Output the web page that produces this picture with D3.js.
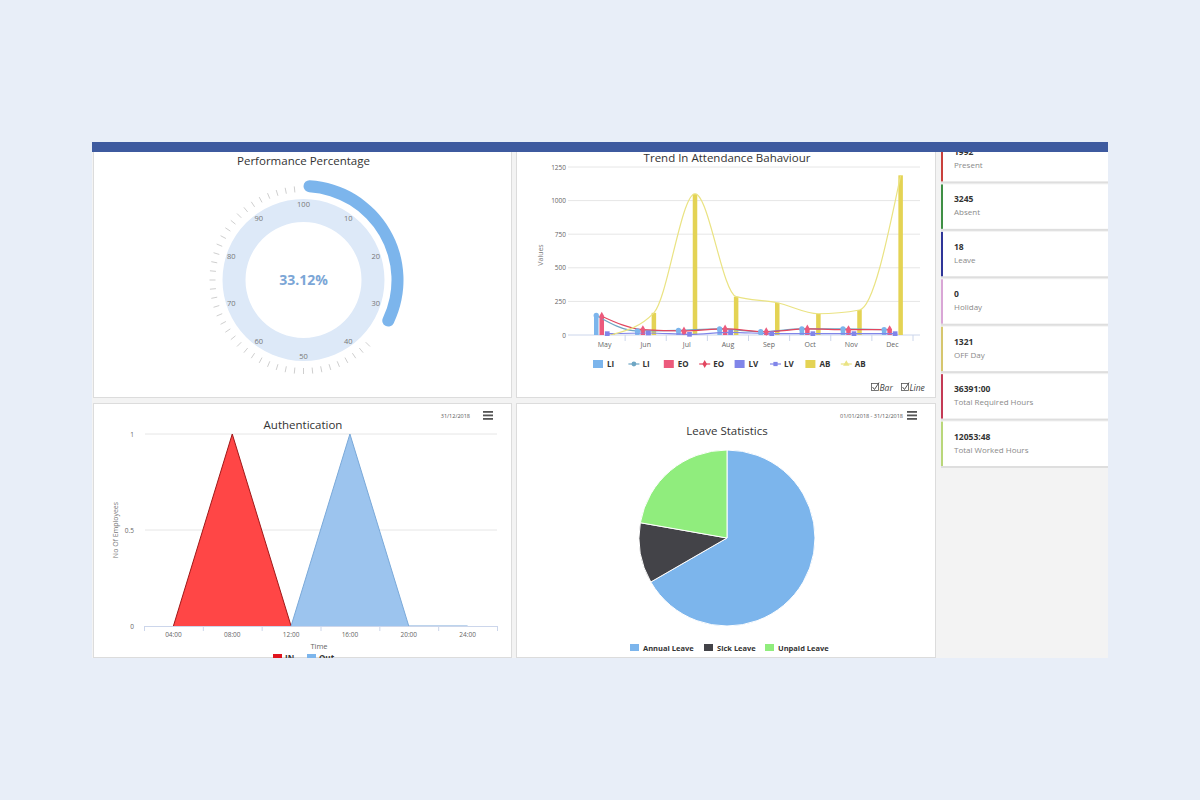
<!DOCTYPE html>
<html>
<head>
<meta charset="utf-8">
<script src="https://cdn.jsdelivr.net/npm/d3@7"></script>
<style>
  html, body { margin: 0; padding: 0; background: #e8eef8; }
  svg { display: block; font-family: 'Open Sans', 'Noto Sans', sans-serif; }
</style>
</head>
<body>
<main></main>
<script>
// ---- data ----
const performance = 33.12;
const gaugeTicks = [0, 10, 20, 30, 40, 50, 60, 70, 80, 90];
const gaugeTickLabels = ['100', '10', '20', '30', '40', '50', '60', '70', '80', '90'];

const months = ['May', 'Jun', 'Jul', 'Aug', 'Sep', 'Oct', 'Nov', 'Dec'];
const seriesNames = ['LI', 'EO', 'LV', 'AB'];
const liValues = [145, 30, 35, 45, 25, 45, 45, 40];
const eoValues = [140, 40, 30, 45, 25, 45, 40, 40];
const lvValues = [10, 15, 5, 20, 10, 10, 10, 10];
const abValues = [5, 165, 1050, 285, 240, 158, 186, 1188];
const trendTicks = [0, 250, 500, 750, 1000, 1250];

const hours = [4, 8, 12, 16, 20, 24];
const hourLabels = ['04:00', '08:00', '12:00', '16:00', '20:00', '24:00'];
const inCounts = [0, 1, 0, null, null, null];
const outCounts = [null, null, 0, 1, 0, 0];
const authTicks = [0, 0.5, 1];

const leaveTypes = ['Annual Leave', 'Sick Leave', 'Unpaid Leave'];
const leaveDays = [12, 2, 4];

const statValues = ['1992', '3245', '18', '0', '1321', '36391:00', '12053:48'];
const statLabels = ['Present', 'Absent', 'Leave', 'Holiday', 'OFF Day', 'Total Required Hours', 'Total Worked Hours'];

// ---- style ----
const cardColors = ['#c9403c', '#3f8f45', '#2f3598', '#d9a6d6', '#d6c66e', '#c43a55', '#b9d77a'];
const seriesBar = { LI: '#7cb5ec', EO: '#ec5a7c', LV: '#8085e9', AB: '#e4d354' };
const seriesLine = { LI: '#6ea6c4', EO: '#e2465f', LV: '#8085e9', AB: '#eae383' };
const leaveColors = ['#7cb5ec', '#434348', '#90ed7d'];

const width = 1200;
const height = 800;

const svg = d3.select('main')
  .append('svg')
  .attr('width', width)
  .attr('height', height);

svg.append('rect')
  .attr('width', width)
  .attr('height', height)
  .attr('fill', '#e8eef8');

// dashboard container
svg.append('rect')
  .attr('x', 92).attr('y', 142)
  .attr('width', 1016).attr('height', 516)
  .attr('fill', '#f3f3f3');

const panels = [
  { id: 'p1', x: 93, y: 146, w: 419, h: 252 },
  { id: 'p2', x: 516, y: 146, w: 420, h: 252 },
  { id: 'p3', x: 93, y: 403, w: 419, h: 255 },
  { id: 'p4', x: 516, y: 403, w: 420, h: 255 }
];

const defs = svg.append('defs');
const panelGroups = {};
panels.forEach(p => {
  defs.append('clipPath').attr('id', 'clip-' + p.id)
    .append('rect').attr('x', p.x).attr('y', p.y).attr('width', p.w).attr('height', p.h);
  svg.append('rect')
    .attr('x', p.x + 0.5).attr('y', p.y + 0.5)
    .attr('width', p.w - 1).attr('height', p.h - 1)
    .attr('fill', '#fff')
    .attr('stroke', '#dcdcdc');
  panelGroups[p.id] = svg.append('g').attr('clip-path', `url(#clip-${p.id})`);
});

// ---- Gauge ----
const g1 = panelGroups.p1;
const gcx = 303.5, gcy = 280;
const angle = d3.scaleLinear().domain([0, 100]).range([0, 2 * Math.PI]);

g1.append('text')
  .attr('x', gcx).attr('y', 165)
  .attr('text-anchor', 'middle')
  .attr('font-size', 11.5)
  .attr('fill', '#333')
  .text('Performance Percentage');

g1.append('path')
  .attr('transform', `translate(${gcx},${gcy})`)
  .attr('d', d3.arc()({ innerRadius: 58, outerRadius: 81, startAngle: 0, endAngle: 2 * Math.PI }))
  .attr('fill', '#dde9f8');

g1.append('path')
  .attr('transform', `translate(${gcx},${gcy})`)
  .attr('d', d3.arc().cornerRadius(6)({ innerRadius: 88, outerRadius: 100, startAngle: 0, endAngle: angle(performance) }))
  .attr('fill', '#7cb5ec');

const minorTicks = d3.range(0, 100, 100 / 64).filter(v => v > performance + 3.5 && v < 98.5);
g1.append('g')
  .attr('transform', `translate(${gcx},${gcy})`)
  .selectAll('line')
  .data(minorTicks)
  .join('line')
  .attr('x1', d => 88 * Math.sin(angle(d)))
  .attr('y1', d => -88 * Math.cos(angle(d)))
  .attr('x2', d => 94 * Math.sin(angle(d)))
  .attr('y2', d => -94 * Math.cos(angle(d)))
  .attr('stroke', '#cfcfcf')
  .attr('stroke-width', 1);

g1.append('g')
  .attr('transform', `translate(${gcx},${gcy})`)
  .selectAll('text')
  .data(gaugeTicks)
  .join('text')
  .attr('x', d => 76 * Math.sin(angle(d)))
  .attr('y', d => -76 * Math.cos(angle(d)))
  .attr('dy', '0.35em')
  .attr('text-anchor', 'middle')
  .attr('font-size', 7.5)
  .attr('fill', '#777')
  .text((d, i) => gaugeTickLabels[i]);

g1.append('text')
  .attr('x', gcx).attr('y', gcy)
  .attr('dy', '0.36em')
  .attr('text-anchor', 'middle')
  .attr('font-size', 14)
  .attr('font-weight', 700)
  .attr('fill', '#7ba6d6')
  .text(performance.toFixed(2) + '%');

// ---- Trend ----
const g2 = panelGroups.p2;
g2.append('text')
  .attr('x', 727).attr('y', 162)
  .attr('text-anchor', 'middle')
  .attr('font-size', 11.5)
  .attr('fill', '#333')
  .text('Trend In Attendance Bahaviour');

const ty = d3.scaleLinear().domain([0, 1250]).range([335, 167]);
const tx = d3.scaleBand().domain(months).range([584, 913]);
const tsub = d3.scaleBand().domain(seriesNames).range([9, 32]).padding(0.18);

g2.append('g')
  .selectAll('line')
  .data(trendTicks)
  .join('line')
  .attr('x1', 568).attr('x2', 920)
  .attr('y1', d => ty(d)).attr('y2', d => ty(d))
  .attr('stroke', d => d === 0 ? '#ccd6eb' : '#e6e6e6');

g2.append('g')
  .attr('transform', 'translate(566,0)')
  .call(d3.axisLeft(ty).tickValues(trendTicks).tickSize(0).tickPadding(0).tickFormat(d3.format('d')))
  .call(a => a.select('.domain').remove())
  .selectAll('text')
  .attr('font-size', 6.5)
  .attr('fill', '#666')
  .attr('font-family', "'Open Sans', sans-serif");

g2.append('g')
  .attr('transform', 'translate(0,335)')
  .call(d3.axisBottom(tx).tickSize(0).tickPadding(7))
  .call(a => a.select('.domain').remove())
  .selectAll('text')
  .attr('font-size', 7)
  .attr('fill', '#666')
  .attr('font-family', "'Open Sans', sans-serif");

// x axis tick marks at band edges
g2.append('g')
  .selectAll('line')
  .data(months)
  .join('line')
  .attr('x1', d => tx(d) + tx.bandwidth())
  .attr('x2', d => tx(d) + tx.bandwidth())
  .attr('y1', 335).attr('y2', 341)
  .attr('stroke', '#ccd6eb');

g2.append('text')
  .attr('transform', 'translate(543,255) rotate(-90)')
  .attr('text-anchor', 'middle')
  .attr('font-size', 7)
  .attr('fill', '#777')
  .text('Values');

const trendSeries = [
  { key: 'LI', values: liValues, marker: d3.symbolCircle },
  { key: 'EO', values: eoValues, marker: d3.symbolDiamond },
  { key: 'LV', values: lvValues, marker: d3.symbolSquare },
  { key: 'AB', values: abValues, marker: d3.symbolTriangle }
];
const px = (s, i) => tx(months[i]) + tsub(s.key) + tsub.bandwidth() / 2;

trendSeries.forEach(s => {
  g2.append('g')
    .selectAll('rect')
    .data(s.values)
    .join('rect')
    .attr('x', (d, i) => tx(months[i]) + tsub(s.key))
    .attr('y', d => ty(d))
    .attr('width', tsub.bandwidth())
    .attr('height', d => ty(0) - ty(d))
    .attr('fill', seriesBar[s.key]);
});

const lineGen = s => d3.line()
  .x((d, i) => px(s, i))
  .y(d => ty(d))
  .curve(d3.curveMonotoneX);

trendSeries.forEach(s => {
  g2.append('path')
    .datum(s.values)
    .attr('d', lineGen(s))
    .attr('fill', 'none')
    .attr('stroke', seriesLine[s.key])
    .attr('stroke-width', 1.2);
});

trendSeries.filter(s => s.key !== 'AB').forEach(s => {
  g2.append('g')
    .selectAll('path')
    .data(s.values)
    .join('path')
    .attr('transform', (d, i) => `translate(${px(s, i)},${ty(d)})`)
    .attr('d', d3.symbol().type(s.marker).size(22))
    .attr('fill', seriesBar[s.key]);
});

// legend
const legendKeys = [];
seriesNames.forEach(k => { legendKeys.push({ key: k, type: 'bar' }); legendKeys.push({ key: k, type: 'line' }); });
const lx = d3.scaleBand().domain(d3.range(legendKeys.length)).range([593, 593 + 8 * 35.4]);
const legend = g2.append('g');
legendKeys.forEach((item, i) => {
  const x0 = lx(i);
  const s = trendSeries.find(t => t.key === item.key);
  if (item.type === 'bar') {
    legend.append('rect')
      .attr('x', x0).attr('y', 360)
      .attr('width', 10).attr('height', 8)
      .attr('fill', seriesBar[item.key]);
  } else {
    legend.append('line')
      .attr('x1', x0).attr('x2', x0 + 11)
      .attr('y1', 364).attr('y2', 364)
      .attr('stroke', seriesLine[item.key]).attr('stroke-width', 1.2);
    legend.append('path')
      .attr('transform', `translate(${x0 + 5.5},364)`)
      .attr('d', d3.symbol().type(s.marker).size(18))
      .attr('fill', seriesLine[item.key]);
  }
  legend.append('text')
    .attr('x', x0 + 14).attr('y', 364)
    .attr('dy', '0.35em')
    .attr('font-size', 8)
    .attr('font-weight', 700)
    .attr('fill', '#333')
    .text(item.key);
});

// Bar / Line toggles
[{ x: 871, label: 'Bar' }, { x: 901, label: 'Line' }].forEach(t => {
  g2.append('rect')
    .attr('x', t.x + 0.5).attr('y', 383.5)
    .attr('width', 7).attr('height', 7)
    .attr('fill', 'none').attr('stroke', '#555').attr('stroke-width', 0.8);
  g2.append('path')
    .attr('d', `M${t.x + 1.5},${387} L${t.x + 3.5},${389.5} L${t.x + 8},${382.5}`)
    .attr('fill', 'none').attr('stroke', '#444').attr('stroke-width', 0.9);
  g2.append('text')
    .attr('x', t.x + 8.5).attr('y', 390.5)
    .attr('font-size', 8.5)
    .attr('font-style', 'italic')
    .attr('fill', '#444')
    .text(t.label);
});

// ---- Authentication ----
const g3 = panelGroups.p3;
const hamburger = (g, x, y) => {
  g.append('g').selectAll('rect').data([0, 3.5, 7]).join('rect')
    .attr('x', x).attr('y', d => y + d)
    .attr('width', 10).attr('height', 1.8)
    .attr('fill', '#555');
};

g3.append('text')
  .attr('x', 303).attr('y', 429)
  .attr('text-anchor', 'middle')
  .attr('font-size', 11.5)
  .attr('fill', '#333')
  .text('Authentication');
g3.append('text')
  .attr('x', 470).attr('y', 418)
  .attr('text-anchor', 'end')
  .attr('font-size', 5.5)
  .attr('fill', '#555')
  .text('31/12/2018');
hamburger(g3, 483, 411);

const ax = d3.scaleLinear().domain([2, 26]).range([144, 497]);
const ay = d3.scaleLinear().domain([0, 1]).range([626, 434]);

g3.append('g')
  .selectAll('line')
  .data(authTicks.filter(d => d > 0))
  .join('line')
  .attr('x1', 145).attr('x2', 497)
  .attr('y1', d => ay(d)).attr('y2', d => ay(d))
  .attr('stroke', '#e6e6e6');

g3.append('g')
  .attr('transform', 'translate(134,0)')
  .call(d3.axisLeft(ay).tickValues(authTicks).tickSize(0).tickPadding(0).tickFormat(d3.format('')))
  .call(a => a.select('.domain').remove())
  .selectAll('text')
  .attr('font-size', 6.5)
  .attr('fill', '#666')
  .attr('font-family', "'Open Sans', sans-serif");

const inPts = hours.map((h, i) => [h, inCounts[i]]);
const outPts = hours.map((h, i) => [h, outCounts[i]]);
const area = d3.area()
  .defined(d => d[1] !== null)
  .x(d => ax(d[0])).y0(ay(0)).y1(d => ay(d[1]));
const line = d3.line()
  .defined(d => d[1] !== null)
  .x(d => ax(d[0])).y(d => ay(d[1]));

g3.append('path').datum(inPts).attr('d', area).attr('fill', '#ff3c3c').attr('fill-opacity', 0.95);
g3.append('path').datum(inPts).attr('d', line).attr('fill', 'none').attr('stroke', '#a01818').attr('stroke-width', 1);
g3.append('path').datum(outPts).attr('d', area).attr('fill', '#9cc4ee');
g3.append('path').datum(outPts).attr('d', line).attr('fill', 'none').attr('stroke', '#7aa9d9').attr('stroke-width', 1);

g3.append('g')
  .attr('transform', 'translate(0,626)')
  .call(d3.axisBottom(ax).tickValues([2, 6, 10, 14, 18, 22, 26]).tickSize(5).tickFormat(''))
  .call(a => a.select('.domain').attr('stroke', '#ccd6eb'))
  .call(a => a.selectAll('.tick line').attr('stroke', '#ccd6eb'));

g3.append('g')
  .selectAll('text')
  .data(hours)
  .join('text')
  .attr('x', d => ax(d))
  .attr('y', 637)
  .attr('text-anchor', 'middle')
  .attr('font-size', 6.5)
  .attr('fill', '#666')
  .text((d, i) => hourLabels[i]);

g3.append('text')
  .attr('x', 319).attr('y', 649)
  .attr('text-anchor', 'middle')
  .attr('font-size', 7.5)
  .attr('fill', '#666')
  .text('Time');

g3.append('text')
  .attr('transform', 'translate(118,530) rotate(-90)')
  .attr('text-anchor', 'middle')
  .attr('font-size', 7)
  .attr('fill', '#777')
  .text('No Of Employees');

[{ x: 273, label: 'IN', color: '#e0141e' }, { x: 307, label: 'Out', color: '#7cb5ec' }].forEach(l => {
  g3.append('rect').attr('x', l.x).attr('y', 654).attr('width', 9).attr('height', 7).attr('fill', l.color);
  g3.append('text').attr('x', l.x + 12).attr('y', 661)
    .attr('font-size', 8).attr('font-weight', 700).attr('fill', '#333').text(l.label);
});

// ---- Leave Statistics ----
const g4 = panelGroups.p4;
g4.append('text')
  .attr('x', 727).attr('y', 435)
  .attr('text-anchor', 'middle')
  .attr('font-size', 11.5)
  .attr('fill', '#333')
  .text('Leave Statistics');
g4.append('text')
  .attr('x', 903).attr('y', 418)
  .attr('text-anchor', 'end')
  .attr('font-size', 5.5)
  .attr('fill', '#555')
  .text('01/01/2018 - 31/12/2018');
hamburger(g4, 907, 411);

const pie = d3.pie().sort(null).value(d => d)(leaveDays);
g4.append('g')
  .attr('transform', 'translate(727,538)')
  .selectAll('path')
  .data(pie)
  .join('path')
  .attr('d', d3.arc().innerRadius(0).outerRadius(88))
  .attr('fill', (d, i) => leaveColors[i])
  .attr('stroke', '#fff')
  .attr('stroke-width', 1);

const legX = [630, 704, 765];
leaveTypes.forEach((t, i) => {
  g4.append('rect').attr('x', legX[i]).attr('y', 644).attr('width', 9).attr('height', 7).attr('fill', leaveColors[i]);
  g4.append('text').attr('x', legX[i] + 13).attr('y', 648)
    .attr('dy', '0.35em')
    .attr('font-size', 7.5).attr('font-weight', 700).attr('fill', '#333').text(t);
});

// ---- Sidebar stats ----
defs.append('clipPath').attr('id', 'clip-side')
  .append('rect').attr('x', 938).attr('y', 142).attr('width', 170).attr('height', 516);
const cy = d3.scaleBand().domain(statLabels).range([137, 137 + 47 * 7]).paddingInner(3 / 47);
const cards = svg.append('g')
  .attr('clip-path', 'url(#clip-side)')
  .selectAll('g')
  .data(statLabels)
  .join('g')
  .attr('transform', d => `translate(941,${cy(d)})`);

cards.append('rect')
  .attr('x', 0).attr('y', 2)
  .attr('width', 167).attr('height', cy.bandwidth())
  .attr('fill', '#dedede');
cards.append('rect')
  .attr('width', 167).attr('height', cy.bandwidth())
  .attr('fill', '#fff');
cards.append('rect')
  .attr('width', 2).attr('height', cy.bandwidth())
  .attr('fill', (d, i) => cardColors[i]);
cards.append('text')
  .attr('x', 13).attr('y', 18)
  .attr('font-size', 8.5)
  .attr('font-weight', 700)
  .attr('fill', '#333')
  .text((d, i) => statValues[i]);
cards.append('text')
  .attr('x', 13).attr('y', 31)
  .attr('font-size', 8)
  .attr('fill', '#8a8a8a')
  .text(d => d);

// top bar
svg.append('rect')
  .attr('x', 92).attr('y', 142)
  .attr('width', 1016).attr('height', 10)
  .attr('fill', '#3e5a9f');
</script>
</body>
</html>
